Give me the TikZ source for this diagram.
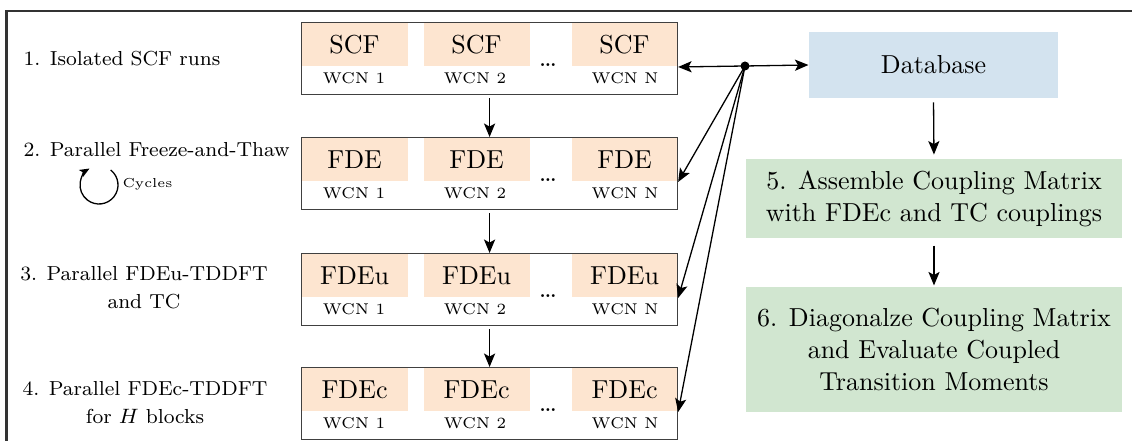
\documentclass[tikz,border=0pt]{standalone}
\usetikzlibrary{arrows.meta}
\definecolor{peach}{HTML}{FDE5D0}
\definecolor{dbblue}{HTML}{D3E3EF}
\definecolor{stepgreen}{HTML}{D1E6D0}
\definecolor{framegray}{HTML}{333333}
\begin{document}
\begin{tikzpicture}[x=0.3846pt,y=-0.3846pt,
  rowbox/.style={draw=black!75, line width=0.45pt, minimum width=144.6pt, minimum height=27.7pt, inner sep=0pt, anchor=north west},
  cell/.style={fill=peach, minimum width=40.8pt, minimum height=16.9pt, inner sep=0pt, anchor=north west, font=\fontsize{10}{12}\selectfont},
  wcn/.style={font=\fontsize{6}{7}\selectfont, inner sep=0pt},
  dotsn/.style={font=\fontsize{10.5}{12}\selectfont, inner sep=0pt, anchor=base},
  lbl/.style={font=\fontsize{7.8}{10.8}\selectfont, inner sep=0pt, align=center},
  bigbox/.style={minimum width=144.6pt, inner sep=0pt, align=center, font=\fontsize{10}{12.3}\selectfont},
  arr/.style={-{Stealth[length=5.2pt,width=4.3pt,inset=1.2pt]}, line width=0.5pt}]
\useasboundingbox (0,0) rectangle (1132,441);
\clip (0,0) rectangle (1132,441);
\draw[framegray, line width=0.8pt] (6.5,11) rectangle (1150,460);

% left labels
\node[lbl, anchor=west] (l1) at (23,59) {1. Isolated SCF runs};
\node[lbl, anchor=west] (l2) at (23,150) {2. Parallel Freeze-and-Thaw};
\node[lbl] (l3) at (144,288) {3. Parallel FDEu-TDDFT\\and TC};
\node[lbl] (l4) at (145,403) {4. Parallel FDEc-TDDFT\\for $H$ blocks};
\coordinate (cyc) at (99,185);
\draw[-{Stealth[length=3.8pt,width=3.1pt,inset=0.9pt]}, line width=0.5pt] (cyc) ++(-52:19) arc[start angle=-52, end angle=240, radius=19];
\node[font=\fontsize{5}{6}\selectfont, inner sep=0pt, anchor=west] (cy) at (122,184) {Cycles};

% row boxes
\foreach \r/\T/\lab in {1/22/SCF,2/137/FDE,3/253/FDEu,4/367/FDEc}{
  \node[cell] (c\r-a) at (301,\T) {\lab};
  \node[cell] (c\r-b) at (423,\T) {\lab};
  \node[cell] (c\r-c) at (571,\T) {\lab};
  \node[wcn] (w\r-a) at (354,\T+56) {WCN 1};
  \node[wcn] (w\r-b) at (475,\T+56) {WCN 2};
  \node[wcn] (w\r-c) at (625,\T+56) {WCN N};
  \node[dotsn] (d\r) at (548,\T+45) {\dots};
  \node[rowbox] (b\r) at (301,\T) {};
}
\foreach \a/\b in {1/2,2/3,3/4}
  \draw[arr, shorten <=1.15pt] (b\a.south) -- (b\b.north);

% right side
\node[fill=dbblue, minimum width=95.8pt, minimum height=25.4pt, inner sep=0pt, font=\fontsize{10}{12}\selectfont] (db) at (933.5,65) {Database};
\node[bigbox, fill=stepgreen, minimum height=30.4pt] (s5) at (934,198.5) {5. Assemble Coupling Matrix\\with FDEc and TC couplings};
\node[bigbox, fill=stepgreen, minimum height=48.1pt] (s6) at (934,349.5) {6. Diagonalze Coupling Matrix\\and Evaluate Coupled\\Transition Moments};
\draw[arr, shorten <=1.5pt, shorten >=1.5pt] (db.south) -- (s5.north);
\draw[arr, shorten <=2.7pt, shorten >=0.4pt] (s5.south) -- (s6.north);

% junction
\coordinate (J) at (745,66);
\draw[arr] (J) -- (db.west);
\foreach \r in {1,...,4}
  \draw[arr] (J) -- (c\r-c.south east);
\fill (J) circle[radius=4.5];
\end{tikzpicture}
\end{document}
